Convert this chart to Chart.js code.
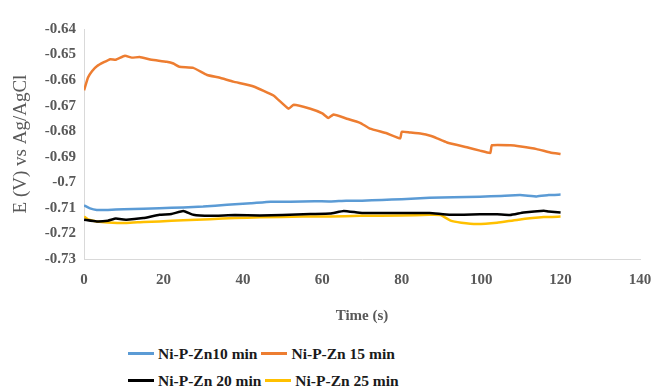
<!DOCTYPE html>
<html>
<head>
<meta charset="utf-8">
<script src="https://cdn.jsdelivr.net/npm/chart.js@4/dist/chart.umd.min.js"></script>
<style>
    body { margin: 0; background: #fff; }
    #wrap { position: relative; width: 653px; height: 390px; }
    #box { position: absolute; left: 0; top: 0; width: 653px; height: 330px; }
    #legend { position: absolute; left: 128px; top: 340px; width: 290px;
              font: bold 15.5px "Liberation Serif", serif; color: #1a1a1a; }
    .row { display: flex; height: 27px; align-items: center; }
    .item { display: flex; align-items: center; margin-right: 4px; }
    .swatch { display: inline-block; width: 26px; height: 3px; margin-right: 4px; }
</style>
</head>
<body>
<div id="wrap">
    <div id="box"><canvas id="chart"></canvas></div>
    <div id="legend"></div>
</div>
<script>
// Données
const seriesLabels = ['Ni-P-Zn10 min', 'Ni-P-Zn 15 min', 'Ni-P-Zn 20 min', 'Ni-P-Zn 25 min'];
const seriesColors = ['#5b9bd5', '#ed7d31', '#000000', '#ffc000'];

const blueT = [0, 1.5, 3.2, 6, 10, 15, 19, 25, 30, 36, 42, 47, 52, 58, 62, 66, 70, 75, 80, 87, 93, 99.7, 105, 109.8, 114, 117, 120];
const blueV = [-0.709, -0.7102, -0.7108, -0.7108, -0.7105, -0.7103, -0.7101, -0.7098, -0.7095, -0.7088, -0.7082, -0.7076, -0.7076, -0.7074, -0.7075, -0.7072, -0.7072, -0.7069, -0.7066, -0.706, -0.7058, -0.7056, -0.7053, -0.705, -0.7055, -0.705, -0.7048];

const orangeT = [0, 1, 2, 3.3, 5, 6.6, 8, 10.3, 12, 14, 17, 20.8, 22.5, 24, 27.5, 31, 34, 37.6, 42.7, 47.7, 51.5, 52.8, 57, 60, 61.5, 62.8, 66, 69.5, 72, 76.2, 79.6, 80, 82, 85, 87.2, 88.9, 91.4, 96.4, 99.7, 102.3, 102.7, 107.4, 110, 114, 117.4, 120];
const orangeV = [-0.664, -0.659, -0.6565, -0.6545, -0.653, -0.6518, -0.652, -0.6505, -0.6512, -0.651, -0.652, -0.6528, -0.6535, -0.6548, -0.6552, -0.658, -0.659, -0.6606, -0.6625, -0.666, -0.6712, -0.6696, -0.6712, -0.673, -0.6748, -0.6735, -0.675, -0.6767, -0.679, -0.6808, -0.6828, -0.6802, -0.6805, -0.681, -0.6818, -0.6828, -0.6844, -0.6863, -0.6876, -0.6885, -0.6855, -0.6855, -0.686, -0.687, -0.6883, -0.6889];

const blackT = [0, 3.2, 6, 8, 10.7, 14.9, 19, 22, 25, 27.5, 31.7, 38, 44.3, 50, 57, 62, 65.4, 70, 80, 87, 92, 99.7, 104, 107.3, 110.7, 115.8, 117, 120];
const blackV = [-0.7146, -0.7153, -0.715, -0.7142, -0.7146, -0.714, -0.7127, -0.7124, -0.7112, -0.7127, -0.7131, -0.7128, -0.713, -0.7128, -0.7124, -0.7122, -0.7112, -0.712, -0.712, -0.712, -0.7127, -0.7125, -0.7125, -0.7128, -0.7118, -0.7111, -0.7114, -0.7118];

const yellowT = [0, 1, 3.2, 6, 10.7, 15, 19, 25, 31.7, 38, 44.3, 55, 62, 69.5, 80, 87, 89.8, 92.3, 95, 98.9, 104, 109, 115.8, 120];
const yellowV = [-0.7134, -0.7145, -0.7153, -0.7157, -0.7159, -0.7155, -0.7153, -0.7148, -0.7144, -0.714, -0.7137, -0.7134, -0.7134, -0.7131, -0.713, -0.7127, -0.7128, -0.715, -0.7158, -0.7163, -0.7158, -0.7147, -0.7136, -0.7134];

const xTicks = [0, 20, 40, 60, 80, 100, 120, 140];
const yMin = -0.73, yMax = -0.64, yStep = 0.01;

const allT = [blueT, orangeT, blackT, yellowT];
const allV = [blueV, orangeV, blackV, yellowV];

function toPoints(ts, vs) {
    return ts.map((t, i) => ({ x: t, y: vs[i] }));
}

const tickFont = { family: '"Liberation Serif", serif', size: 15, weight: 'bold' };

const chart = new Chart(document.getElementById('chart'), {
    type: 'line',
    data: {
        datasets: seriesLabels.map((label, i) => ({
            label: label,
            data: toPoints(allT[i], allV[i]),
            borderColor: seriesColors[i],
            backgroundColor: seriesColors[i],
            borderWidth: 2.5,
            pointRadius: 0,
            tension: 0.12,
            fill: false
        }))
    },
    options: {
        responsive: true,
        maintainAspectRatio: false,
        animation: false,
        layout: { padding: { top: 29, right: 0, left: 6, bottom: 1 } },
        plugins: {
            legend: { display: false },
            tooltip: { enabled: false }
        },
        scales: {
            x: {
                type: 'linear',
                min: 0,
                max: 140,
                afterBuildTicks: axis => { axis.ticks = xTicks.map(v => ({ value: v })); },
                afterFit: axis => { axis.paddingRight = 13; },
                grid: { display: false, drawTicks: false },
                border: { display: true, color: '#d9d9d9', width: 1 },
                ticks: { color: '#595959', font: tickFont, padding: 12, maxRotation: 0 },
                title: {
                    display: true, text: 'Time (s)', color: '#595959',
                    font: { family: '"Liberation Serif", serif', size: 15, weight: 'bold' },
                    padding: { top: 6 }
                }
            },
            y: {
                min: yMin,
                max: yMax,
                ticks: {
                    stepSize: yStep, color: '#595959', font: tickFont, padding: 8,
                    callback: v => Number(v.toFixed(2)).toString()
                },
                grid: { display: false, drawTicks: false },
                border: { display: true, color: '#d9d9d9', width: 1 },
                title: {
                    display: true, text: 'E (V) vs Ag/AgCl', color: '#595959',
                    font: { family: '"Liberation Serif", serif', size: 19 },
                    padding: { bottom: 4 }
                }
            }
        }
    }
});

// Légende HTML sur deux lignes
const legendEl = document.getElementById('legend');
for (let r = 0; r < 2; r++) {
    const row = document.createElement('div');
    row.className = 'row';
    for (let c = 0; c < 2; c++) {
        const i = r * 2 + c;
        const item = document.createElement('span');
        item.className = 'item';
        const sw = document.createElement('span');
        sw.className = 'swatch';
        sw.style.background = seriesColors[i];
        item.appendChild(sw);
        item.appendChild(document.createTextNode(seriesLabels[i]));
        row.appendChild(item);
    }
    legendEl.appendChild(row);
}
</script>
</body>
</html>
